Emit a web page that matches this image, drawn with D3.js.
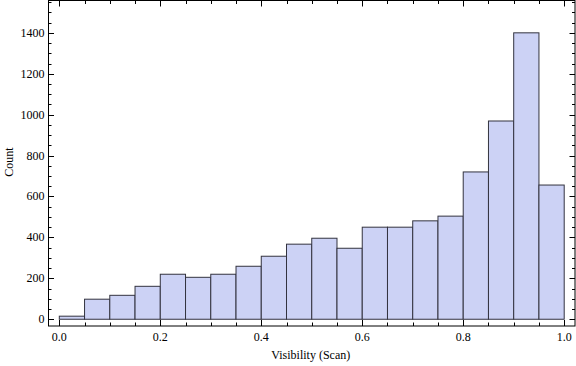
<!DOCTYPE html>
<html>
<head>
<meta charset="utf-8">
<script src="https://cdn.jsdelivr.net/npm/d3@7"></script>
<style>
  body { margin: 0; background: #fff; }
</style>
</head>
<body>
<div id="chart"></div>
<script>
// bins of width 0.05 from 0 to 1
const binStarts = [0, 0.05, 0.1, 0.15, 0.2, 0.25, 0.3, 0.35, 0.4, 0.45,
                   0.5, 0.55, 0.6, 0.65, 0.7, 0.75, 0.8, 0.85, 0.9, 0.95];
const counts = [15, 98, 117, 161, 220, 205, 220, 259, 308, 367,
                396, 347, 450, 450, 481, 504, 720, 969, 1400, 656];
const binWidth = 0.05;
const xTicks = [0, 0.2, 0.4, 0.6, 0.8, 1.0];
const yTicks = [0, 200, 400, 600, 800, 1000, 1200, 1400];

const width = 576, height = 366;
const mLeft = 48.5, mRight = 575, mTop = 0.5, mBottom = 326;

const svg = d3.select('#chart').append('svg')
    .attr('width', width)
    .attr('height', height)
    .attr('font-family', "'Liberation Serif', 'Times New Roman', serif");

const x = d3.scaleLinear().domain([-0.0214, 1.0214]).range([mLeft, mRight]);
const y = d3.scaleLinear().domain([-33, 1558]).range([mBottom, mTop]);

// bars
svg.append('g').selectAll('rect')
    .data(binStarts)
    .join('rect')
    .attr('x', d => x(d))
    .attr('width', d => x(d + binWidth) - x(d))
    .attr('y', (d, i) => y(counts[i]))
    .attr('height', (d, i) => y(0) - y(counts[i]))
    .attr('fill', '#ccd2f5')
    .attr('stroke', '#33333f')
    .attr('stroke-width', 1);

// frame
svg.append('rect')
    .attr('x', mLeft).attr('y', mTop)
    .attr('width', mRight - mLeft).attr('height', mBottom - mTop)
    .attr('fill', 'none')
    .attr('stroke', '#000')
    .attr('stroke-width', 1);

const xMinor = d3.range(0, 1.0001, 0.05);
const yMinor = d3.range(0, 1551, 50);
const tickG = svg.append('g').attr('stroke', '#000').attr('stroke-width', 1);

// inward ticks on all four sides
xMinor.forEach(v => {
  const major = xTicks.some(t => Math.abs(t - v) < 1e-6);
  const len = major ? 6 : 3.5;
  const px = Math.round(x(v)) + 0.5;
  tickG.append('line').attr('x1', px).attr('x2', px).attr('y1', mBottom).attr('y2', mBottom - len);
  tickG.append('line').attr('x1', px).attr('x2', px).attr('y1', mTop).attr('y2', mTop + len);
});
yMinor.forEach(v => {
  const major = yTicks.includes(v);
  const len = major ? 5.5 : 3;
  const py = Math.round(y(v)) + 0.5;
  tickG.append('line').attr('y1', py).attr('y2', py).attr('x1', mLeft).attr('x2', mLeft + len);
  tickG.append('line').attr('y1', py).attr('y2', py).attr('x1', mRight).attr('x2', mRight - len);
});

// tick labels
svg.append('g').selectAll('text')
    .data(xTicks)
    .join('text')
    .attr('x', d => x(d))
    .attr('y', mBottom + 15)
    .attr('text-anchor', 'middle')
    .attr('font-size', 12)
    .text(d => d3.format('.1f')(d));

svg.append('g').selectAll('text')
    .data(yTicks)
    .join('text')
    .attr('x', mLeft - 4)
    .attr('y', d => y(d) + 4)
    .attr('text-anchor', 'end')
    .attr('font-size', 12)
    .text(d => d);

// axis labels
svg.append('text')
    .attr('x', (mLeft + mRight) / 2 - 1)
    .attr('y', 359)
    .attr('text-anchor', 'middle')
    .attr('font-size', 12)
    .text('Visibility (Scan)');

svg.append('text')
    .attr('transform', 'translate(13, 162) rotate(-90)')
    .attr('text-anchor', 'middle')
    .attr('font-size', 12)
    .text('Count');
</script>
</body>
</html>
